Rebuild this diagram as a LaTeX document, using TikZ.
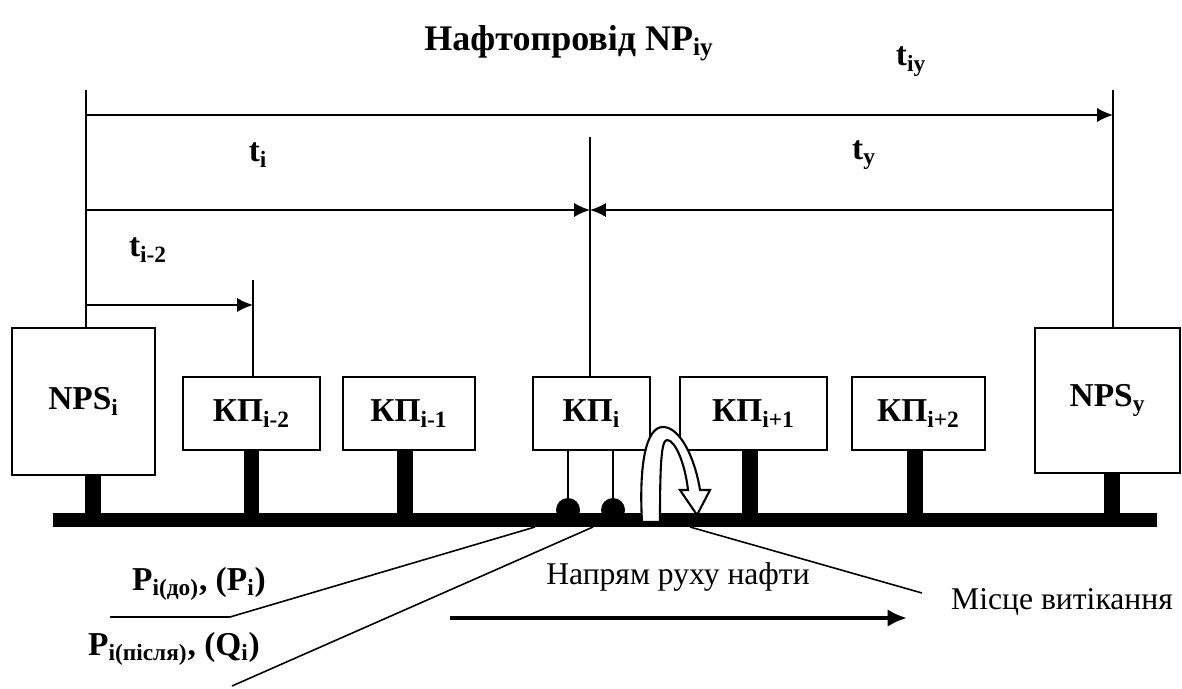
\documentclass[tikz,border=0pt]{standalone}
\usepackage{fontspec}
\setmainfont{Liberation Serif}
\usetikzlibrary{arrows.meta}

\begin{document}
\begin{tikzpicture}[
    station/.style={draw, line width=1.6pt, inner sep=0pt, fill=white, font=\bfseries\fontsize{19}{22}\selectfont},
    post/.style={line width=9pt},
    dim/.style={line width=0.9pt, -{Latex[length=9pt,width=8pt]}},
    lbl/.style={font=\bfseries\fontsize{19}{22}\selectfont},
    note/.style={font=\fontsize{18}{21}\selectfont}]
\useasboundingbox (0,0) rectangle (23.64,13.76);

% title and time labels
\node[lbl, font=\bfseries\fontsize{20.5}{24}\selectfont] (title) at (11.38,12.9) {Нафтопровід NP\textsubscript{iy}};
\node[lbl] (tiy) at (18.22,12.52) {t\textsubscript{iy}};
\node[lbl] (ti) at (5.16,10.66) {t\textsubscript{i}};
\node[lbl] (ty) at (17.28,10.66) {t\textsubscript{y}};
\node[lbl] (ti2) at (2.96,8.76) {t\textsubscript{i-2}};

% pipeline
\node[fill=black, minimum width=22.08cm, minimum height=0.28cm, inner sep=0pt] (pipe) at (12.1,3.36) {};

% stations
\node[station, minimum width=2.86cm, minimum height=2.94cm] (npsi) at (1.67,5.73) {NPS\textsubscript{i}};
\node[station, minimum width=2.9cm, minimum height=2.9cm] (npsy) at (22.15,5.75) {NPS\textsubscript{y}};
\node[station, minimum width=2.74cm, minimum height=1.46cm] (kp2) at (5.03,5.49) {КП\textsubscript{i-2}};
\node[station, minimum width=2.64cm, minimum height=1.46cm] (kp1) at (8.18,5.49) {КП\textsubscript{i-1}};
\node[station, minimum width=2.34cm, minimum height=1.46cm] (kpi) at (11.83,5.49) {КП\textsubscript{i}};
\node[station, minimum width=2.94cm, minimum height=1.46cm] (kp3) at (15.07,5.49) {КП\textsubscript{i+1}};
\node[station, minimum width=2.66cm, minimum height=1.46cm] (kp4) at (18.37,5.49) {КП\textsubscript{i+2}};

\draw[post] (1.86,0 |- npsi.south) -- (1.86,0 |- pipe.north);
\draw[post] (kp2.south) -- (kp2.south |- pipe.north);
\draw[post] (8.1,0 |- kp1.south) -- (8.1,0 |- pipe.north);
\draw[post] (15.0,0 |- kp3.south) -- (15.0,0 |- pipe.north);
\draw[post] (18.3,0 |- kp4.south) -- (18.3,0 |- pipe.north);
\draw[post] (22.24,0 |- npsy.south) -- (22.24,0 |- pipe.north);

% sensors under KP_i
\node[circle, fill=black, minimum size=0.48cm, inner sep=0pt] (s1) at (11.36,3.56) {};
\node[circle, fill=black, minimum size=0.48cm, inner sep=0pt] (s2) at (12.26,3.56) {};
\draw[line width=0.8pt] (s1 |- kpi.south) -- (s1.center);
\draw[line width=0.8pt] (s2 |- kpi.south) -- (s2.center);

% time axes
\coordinate (a0) at (1.72,11.96);
\coordinate (ay) at (22.26,11.96);
\coordinate (am) at (11.8,11.02);
\coordinate (a2) at (5.06,8.16);
\draw[line width=0.8pt] (a0) -- (a0 |- npsi.north);
\draw[line width=0.8pt] (ay) -- (ay |- npsy.north);
\draw[line width=0.8pt] (am) -- (am |- kpi.north);
\draw[line width=0.8pt] (a2) -- (a2 |- kp2.north);
\draw[dim] (1.72,11.46) -- (ay |- 0,11.46);
\draw[dim] (1.72,9.56) -- (am |- 0,9.56);
\draw[dim] (ay |- 0,9.56) -- (am |- 0,9.56);
\draw[dim] (1.72,7.66) -- (a2 |- 0,7.66);

% leak point
\draw[line width=1.2pt, fill=white] (12.84,3.32) .. controls (12.78,4.4) and (12.9,5.22) .. (13.26,5.22)
    .. controls (13.6,5.22) and (13.9,4.6) .. (14.0,3.96) -- (14.2,3.96) -- (13.94,3.46) -- (13.6,3.96) -- (13.76,3.96)
    .. controls (13.7,4.5) and (13.5,4.96) .. (13.34,4.96) .. controls (13.22,4.96) and (13.2,4.4) .. (13.2,3.32) -- cycle;

% flow direction
\node[note] (flow) at (13.56,2.22) {Напрям руху нафти};
\coordinate (f0) at (9.0,1.4);
\coordinate (f1) at (18.14,1.4);
\draw[line width=2.8pt, -{Latex[length=11pt,width=10pt]}] (f0) -- (f1);

% callouts
\node[lbl] (pdo) at (3.98,2.08) {P\textsubscript{i(до)}, (P\textsubscript{i})};
\node[lbl] (pps) at (3.48,0.78) {P\textsubscript{i(після)}, (Q\textsubscript{i})};
\node[note, anchor=west] (leak) at (18.9,1.72) {Місце витікання};
\coordinate (c1) at (10.7,3.22);
\coordinate (c2) at (11.86,3.22);
\coordinate (c3) at (13.8,3.22);
\draw[line width=0.9pt] (2.2,1.42) -- (4.6,1.42) -- (c1);
\draw[line width=0.9pt] (4.64,0.04) -- (c2);
\draw[line width=0.9pt] (c3) -- (18.44,1.9);
\end{tikzpicture}
\end{document}
